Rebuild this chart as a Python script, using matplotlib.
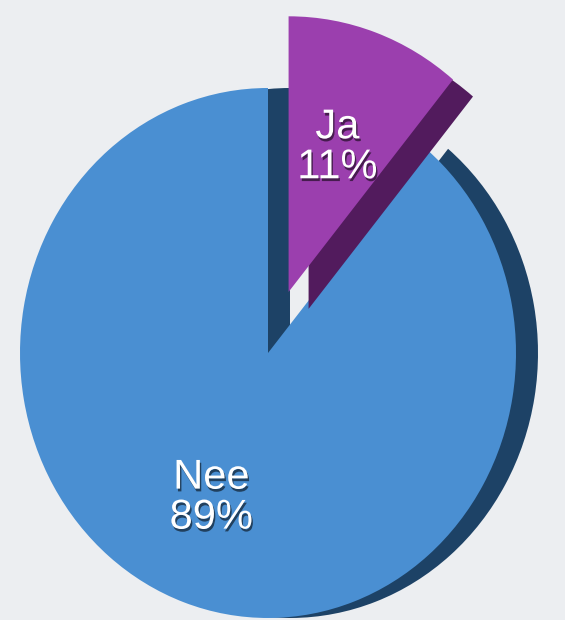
import matplotlib
matplotlib.use("Agg")
import matplotlib.pyplot as plt
import matplotlib.patheffects as pe

categories = ["Nee", "Ja"]
values = [89, 11]
face_colors = ["#4a8fd2", "#9b3fae"]
side_colors = ["#1d4266", "#521b5d"]

W, H = 565, 620
fig = plt.figure(figsize=(W / 100, H / 100), dpi=100)
fig.patch.set_facecolor("#eceef1")
ax = fig.add_axes([0, 0, 1, 1])
ax.set_facecolor("#eceef1")

k = 265 / 248          # vertical stretch of the tilted pie
R = 248
cx, cy_px = 268, 353
cy = (H - cy_px) / k
explode = [0, 0.245 * R]

total = sum(values)
labels = [f"{c}\n{round(v / total * 100)}%" for c, v in zip(categories, values)]

# depth (side) layer
side, _ = ax.pie(values, explode=explode, startangle=90, radius=R,
                 center=(cx + 22, cy), colors=side_colors,
                 wedgeprops=dict(linewidth=0))
# face layer
face, texts = ax.pie(values, explode=explode, startangle=90, radius=R,
                     center=(cx, cy), colors=face_colors, labels=labels,
                     labeldistance=0.58,
                     wedgeprops=dict(linewidth=0),
                     textprops=dict(color="white", fontsize=30,
                                    family=["Liberation Sans", "DejaVu Sans"],
                                    ha="center", va="center", linespacing=1.0))

# Ja side offset differs (perspective)
jc = side[1].center
side[1].set_center((jc[0] - 22 + 20, jc[1] - 17 / k))
for w in (side[1], face[1]):
    w.set_radius(R * 1.04)

side[0].set_zorder(1)
face[0].set_zorder(2)
side[1].set_zorder(3)
face[1].set_zorder(4)

# nudge the Nee label slightly left
x0, y0 = texts[0].get_position()
texts[0].set_position((x0 - 8, y0))

for t in texts:
    t.set_zorder(6)
    t.set_path_effects([pe.SimplePatchShadow(offset=(1, -2), shadow_rgbFace="black", alpha=0.55),
                        pe.Normal()])

ax.set_xlim(0, W)
ax.set_ylim(0, H / k)
ax.set_aspect("auto")
ax.axis("off")

fig.savefig("out.png", dpi=100, facecolor=fig.get_facecolor())
